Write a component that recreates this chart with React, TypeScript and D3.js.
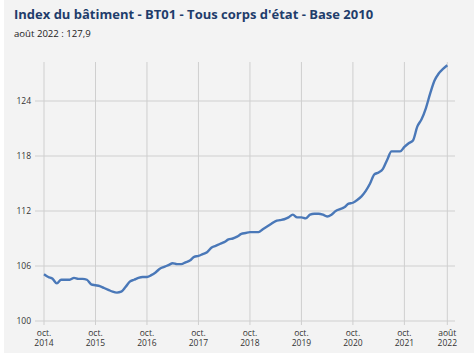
import React from "react";
import * as d3 from "d3";

const values: number[] = [
  105.1, 104.8, 104.6, 104.1, 104.5, 104.5, 104.5, 104.7, 104.6, 104.6, 104.5, 104.0,
  103.9, 103.8, 103.6, 103.4, 103.2, 103.1, 103.2, 103.7, 104.3, 104.5, 104.7, 104.8,
  104.8, 105.0, 105.3, 105.7, 105.9, 106.1, 106.3, 106.2, 106.2, 106.4, 106.6, 107.0,
  107.1, 107.3, 107.5, 108.0, 108.2, 108.4, 108.6, 108.9, 109.0, 109.2, 109.5, 109.6,
  109.7, 109.7, 109.7, 110.0, 110.3, 110.6, 110.9, 111.0, 111.1, 111.3, 111.6, 111.3,
  111.3, 111.2, 111.6, 111.7, 111.7, 111.6, 111.4, 111.6, 112.0, 112.2, 112.4, 112.8,
  112.9, 113.2, 113.6, 114.2, 115.0, 116.0, 116.2, 116.6, 117.6, 118.5, 118.5, 118.5,
  119.0, 119.4, 119.7, 121.2, 122.0, 123.2, 124.8, 126.2, 127.0, 127.5, 127.9,
];

const yTicks: number[] = [100, 106, 112, 118, 124];
const xTickMonths: number[] = [0, 12, 24, 36, 48, 60, 72, 84, 94];
const xTickLabels: string[][] = [
  ["oct.", "2014"], ["oct.", "2015"], ["oct.", "2016"], ["oct.", "2017"], ["oct.", "2018"],
  ["oct.", "2019"], ["oct.", "2020"], ["oct.", "2021"], ["août", "2022"],
];

const title = "Index du bâtiment - BT01 - Tous corps d'état - Base 2010";
const subtitle = "août 2022 : 127,9";

export default function App() {
  const x = d3.scaleLinear().domain([0, 94]).range([44, 447.3]);
  const y = d3.scaleLinear().domain([100, 124]).range([321, 101]);
  const line = d3
    .line<number>()
    .x((_, i) => x(i))
    .y((d) => y(d))
    .curve(d3.curveMonotoneX);
  const font = "'Open Sans', 'Noto Sans', sans-serif";
  return (
    <svg
      width={474}
      height={356}
      style={{ position: "absolute", left: 0, top: 0, background: "#ffffff" }}
      fontFamily={font}
    >
      <rect x={4} y={0} width={470} height={353} fill="#f3f3f3" />
      <text x={14} y={19} fontSize={13} fontWeight={700} fill="#1f3d6b">
        {title}
      </text>
      <text x={14} y={37} fontSize={9.6} fill="#222">
        {subtitle}
      </text>
      {yTicks.map((t) => (
        <g key={"y" + t}>
          <line x1={35} x2={455} y1={y(t)} y2={y(t)} stroke="#cfcfcf" strokeWidth={1} />
          <text x={31} y={y(t) + 3} fontSize={8.5} textAnchor="end" fill="#333">
            {t}
          </text>
        </g>
      ))}
      {xTickMonths.map((m, k) => (
        <g key={"x" + m}>
          <line x1={x(m)} x2={x(m)} y1={62} y2={325} stroke="#cfcfcf" strokeWidth={1} />
          <text x={x(m)} y={336} fontSize={8.5} textAnchor="middle" fill="#333">
            {xTickLabels[k][0]}
          </text>
          <text x={x(m)} y={346} fontSize={8.5} textAnchor="middle" fill="#333">
            {xTickLabels[k][1]}
          </text>
        </g>
      ))}
      <path d={line(values) || ""} fill="none" stroke="#4a78b8" strokeWidth={2.4} strokeLinejoin="round" />
    </svg>
  );
}
